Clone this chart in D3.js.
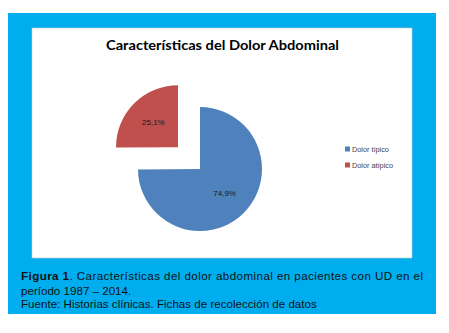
<!DOCTYPE html>
<html><head><meta charset="utf-8">
<script src="https://cdn.jsdelivr.net/npm/d3@7"></script>
<style>html,body{margin:0;padding:0;background:#fff;}</style>
</head><body>
<svg id="c" width="449" height="333"></svg>
<script>
const categories = ["Dolor típico", "Dolor atípico"];
const values = [74.9, 25.1];
const labels = ["74,9%", "25,1%"];
const colors = ["#4F81BD", "#C0504D"];
const exploded = [0, 1];

const svg = d3.select("#c");
svg.append("rect").attr("x", 8).attr("y", 13).attr("width", 428).attr("height", 301).attr("fill", "#00AEEF");
svg.append("rect").attr("x", 32).attr("y", 28).attr("width", 380).attr("height", 230).attr("fill", "#fff").attr("stroke", "#c8c8c8").attr("stroke-width", 0.6);

svg.append("text").attr("x", 222.5).attr("y", 50).attr("text-anchor", "middle")
  .attr("font-family", "Lato, 'Open Sans', sans-serif").attr("font-weight", "bold").attr("font-size", 13.5)
  .attr("textLength", 233).attr("lengthAdjust", "spacingAndGlyphs").attr("fill", "#000")
  .text("Características del Dolor Abdominal");

const cx = 200, cy = 169, r = 62, explode = 31;
const pie = d3.pie().sort(null)(values);
const arc = d3.arc().innerRadius(0).outerRadius(r);
const labelArc = d3.arc().innerRadius(0).outerRadius(r * 1.12);
const g = svg.append("g").attr("transform", `translate(${cx},${cy})`);
pie.forEach((p, i) => {
  const mid = (p.startAngle + p.endAngle) / 2;
  const dx = exploded[i] * explode * Math.sin(mid), dy = -exploded[i] * explode * Math.cos(mid);
  const gg = g.append("g").attr("transform", `translate(${dx},${dy})`);
  gg.append("path").attr("d", arc(p)).attr("fill", colors[i]);
  const c = labelArc.centroid(p);
  gg.append("text").attr("x", c[0]).attr("y", c[1]).attr("text-anchor", "middle").attr("dy", "0.35em")
    .attr("font-family", "'Liberation Sans', Arial, sans-serif").attr("font-size", 8).attr("fill", "#1a1a1a")
    .text(labels[i]);
});

const lg = svg.append("g");
categories.forEach((cName, i) => {
  const y = 149 + i * 16;
  lg.append("rect").attr("x", 345).attr("y", y - 2.5).attr("width", 5).attr("height", 5).attr("fill", colors[i]);
  lg.append("text").attr("x", 352).attr("y", y).attr("dy", "0.35em")
    .attr("font-family", "'Liberation Sans', Arial, sans-serif").attr("font-size", 7.3).attr("fill", "#444")
    .text(cName);
});

const cap = svg.append("g").attr("font-family", "'Liberation Sans', Arial, sans-serif").attr("font-size", 11.6).attr("fill", "#111");
const t1 = cap.append("text").attr("x", 21).attr("y", 280).attr("textLength", 402).attr("lengthAdjust", "spacing");
t1.append("tspan").attr("font-weight", "bold").text("Figura 1");
t1.append("tspan").text(". Características del dolor abdominal en pacientes con UD en el");
cap.append("text").attr("x", 21).attr("y", 294.5).text("período 1987 – 2014.");
cap.append("text").attr("x", 21).attr("y", 308).text("Fuente: Historias clínicas. Fichas de recolección de datos");
</script>
</body></html>
